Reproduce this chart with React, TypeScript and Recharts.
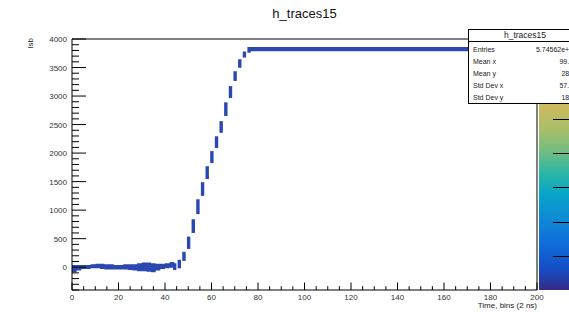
import {
  Area,
  Bar,
  ComposedChart,
  ReferenceLine,
  XAxis,
  YAxis,
} from 'recharts'

// baseline before the edge (x in time bins, value in lsb)
const baseX = [0, 2, 4, 6, 8, 10, 12, 14, 16, 18, 20, 22, 24, 26, 28, 30, 32, 34, 36, 38, 40, 42, 44]
const baseLow = [-90, -60, -30, -30, -20, -20, -30, -40, -40, -40, -40, -40, -50, -60, -70, -70, -80, -90, -60, -30, -20, -10, -10]
const baseHigh = [40, 40, 40, 40, 50, 60, 60, 50, 50, 40, 40, 50, 50, 50, 70, 80, 80, 70, 60, 60, 70, 90, 90]

// rising edge, one column per bin
const riseX = [44, 46, 48, 50, 52, 54, 56, 58, 60, 62, 64, 66, 68, 70, 72, 74, 76]
const riseLow = [-50, -20, 110, 320, 600, 930, 1250, 1545, 1825, 2090, 2355, 2650, 2965, 3265, 3495, 3675, 3760]
const riseHigh = [70, 130, 270, 535, 840, 1190, 1490, 1770, 2035, 2295, 2560, 2890, 3175, 3435, 3645, 3780, 3860]

// saturated plateau
const plateauX = [76, 200]
const plateauLow = [3785, 3785]
const plateauHigh = [3860, 3860]

const xTicks = Array.from({ length: 41 }, (_, i) => i * 5)
const yTicks = Array.from({ length: 45 }, (_, i) => -400 + i * 100)

const stats = [
  ['Entries', '5.74562e+06'],
  ['Mean x', '99.52'],
  ['Mean y', '2846'],
  ['Std Dev x', '57.74'],
  ['Std Dev y', '1846'],
]

const paletteTicks = [119, 153, 187, 222, 256]

const BLUE = '#2a48b0'
const FONT = '"Liberation Sans", Arial, sans-serif'

const rows: { x: number; base?: number[]; rise?: number[]; plat?: number[] }[] = []
const rowAt = (x: number) => {
  let r = rows.find((d) => d.x === x)
  if (!r) {
    r = { x }
    rows.push(r)
  }
  return r
}
baseX.forEach((x, i) => (rowAt(x).base = [baseLow[i], baseHigh[i]]))
riseX.forEach((x, i) => (rowAt(x).rise = [riseLow[i], riseHigh[i]]))
plateauX.forEach((x, i) => (rowAt(x).plat = [plateauLow[i], plateauHigh[i]]))
rows.sort((a, b) => a.x - b.x)

const XTick = (props: any) => {
  const { x, y, payload } = props
  const major = payload.value % 20 === 0
  return (
    <g>
      <line x1={x} x2={x} y1={y} y2={y - (major ? 7.5 : 3.8)} stroke="#000" />
      {major && (
        <text x={x} y={y + 10} textAnchor="middle" fontSize={8} fill="#333" fontFamily={FONT}>
          {payload.value}
        </text>
      )}
    </g>
  )
}

const YTick = (props: any) => {
  const { x, y, payload } = props
  const major = payload.value % 500 === 0
  return (
    <g>
      <line x1={x} x2={x + (major ? 14 : 7)} y1={y} y2={y} stroke="#000" />
      {major && payload.value >= 0 && (
        <text x={x - 5} y={y + 3} textAnchor="end" fontSize={8} fill="#333" fontFamily={FONT}>
          {payload.value}
        </text>
      )}
    </g>
  )
}

export default function App() {
  return (
    <div
      style={{
        position: 'absolute',
        left: 0,
        top: 0,
        width: 569,
        height: 312,
        background: '#fff',
        overflow: 'hidden',
        fontFamily: FONT,
      }}
    >
      <ComposedChart
        width={569}
        height={312}
        data={rows}
        margin={{ top: 39, right: 32, bottom: 0, left: 0 }}
      >
        <XAxis
          dataKey="x"
          type="number"
          domain={[0, 200]}
          ticks={xTicks}
          interval={0}
          tick={<XTick />}
          tickLine={false}
          tickSize={0}
          tickMargin={0}
          height={22}
          axisLine={{ stroke: '#000' }}
          allowDataOverflow
        />
        <YAxis
          type="number"
          domain={[-400, 4000]}
          ticks={yTicks}
          interval={0}
          tick={<YTick />}
          tickLine={false}
          tickSize={0}
          tickMargin={0}
          width={72}
          axisLine={{ stroke: '#000' }}
          allowDataOverflow
        />
        <ReferenceLine y={4000} stroke="#000" />
        <ReferenceLine x={200} stroke="#000" />
        <Area
          dataKey="base"
          type="stepAfter"
          stroke="none"
          fill={BLUE}
          fillOpacity={1}
          isAnimationActive={false}
        />
        <Area
          dataKey="plat"
          type="linear"
          stroke="none"
          fill={BLUE}
          fillOpacity={1}
          isAnimationActive={false}
        />
        <Bar dataKey="rise" fill={BLUE} barSize={3.4} isAnimationActive={false} />
      </ComposedChart>

      {/* title */}
      <div
        style={{
          position: 'absolute',
          left: 0,
          width: 609,
          top: 6,
          textAlign: 'center',
          fontSize: 13,
          color: '#111',
        }}
      >
        h_traces15
      </div>

      {/* y axis title */}
      <div
        style={{
          position: 'absolute',
          left: 27,
          top: 38,
          fontSize: 8,
          color: '#222',
          transform: 'rotate(-90deg) translateX(-100%)',
          transformOrigin: '0 0',
          lineHeight: '8px',
          width: 20,
          textAlign: 'right',
        }}
      >
        Isb
      </div>

      {/* x axis title */}
      <div
        style={{
          position: 'absolute',
          right: 569 - 537,
          top: 301,
          fontSize: 8,
          color: '#222',
        }}
      >
        Time, bins (2 ns)
      </div>

      {/* colour palette */}
      <div
        style={{
          position: 'absolute',
          left: 539,
          top: 100,
          width: 40,
          height: 190,
          background:
            'linear-gradient(to top, #352a87 0%, #1450c8 12%, #0f6edb 25%, #1188d4 37%, #06a4ca 50%, #2eb7a4 62%, #6cbc84 72%, #a8bf6a 84%, #d6b95a 100%)',
        }}
      />
      {paletteTicks.map((t) => (
        <div
          key={t}
          style={{
            position: 'absolute',
            left: 553,
            top: t,
            width: 16,
            height: 1,
            background: '#000',
          }}
        />
      ))}

      {/* stats box */}
      <div
        style={{
          position: 'absolute',
          left: 468,
          top: 29,
          width: 114,
          height: 75,
          border: '1px solid #000',
          background: '#fff',
          fontSize: 7,
          color: '#222',
          boxSizing: 'border-box',
        }}
      >
        <div
          style={{
            height: 11,
            lineHeight: '11px',
            textAlign: 'center',
            fontSize: 8.5,
            borderBottom: '1px solid #000',
            marginBottom: 2,
          }}
        >
          h_traces15
        </div>
        {stats.map(([k, v]) => (
          <div
            key={k}
            style={{
              display: 'flex',
              justifyContent: 'space-between',
              padding: '0 4px',
              height: 12,
              lineHeight: '12px',
            }}
          >
            <span>{k}</span>
            <span>{v}</span>
          </div>
        ))}
      </div>
    </div>
  )
}
